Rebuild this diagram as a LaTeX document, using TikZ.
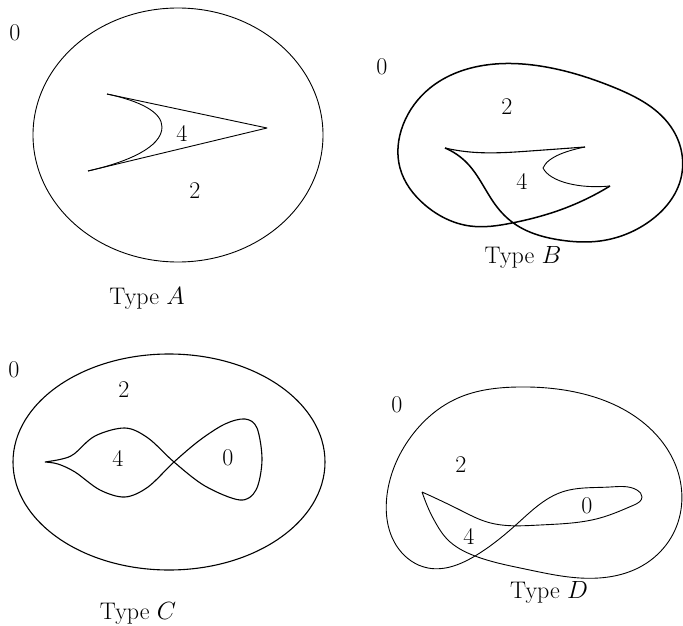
\documentclass[tikz,border=0pt]{standalone}
\usetikzlibrary{hobby}
\tikzset{
  thincurve/.style={line width=0.9pt, line join=round},
  thickcurve/.style={line width=1.5pt, line join=round},
  midcurve/.style={line width=1.1pt, line join=round},
  digit/.style={font=\fontsize{24}{26}\selectfont, inner sep=0pt},
  caption/.style={font=\fontsize{24}{28}\selectfont, inner sep=0pt}
}
\begin{document}
\begin{tikzpicture}[x=1pt,y=-1pt]
\useasboundingbox (0,0) rectangle (683,626);

% ---------- Type A ----------
\draw[thincurve] (178,135) ellipse [x radius=145, y radius=127];
\coordinate (aU) at (107,94);
\coordinate (aT) at (267,128);
\coordinate (aL) at (88,171);
\draw[thincurve] (aU) -- (aT) -- (aL);
\draw[thincurve] (aU) .. controls (140,101) and (162,112) .. (162,127)
                      .. controls (162,147) and (128,162) .. (aL);
\node[digit] (a0) at (15,33) {0};
\node[digit] (a4) at (182,133) {4};
\node[digit] (a2) at (195,191) {2};
\node[caption] (aT1) at (147,298) {Type $A$};

% ---------- Type B ----------
\draw[thickcurve, use Hobby shortcut] (445,148) .. (467,163) .. (497,207) .. (512,222)
  .. (560,240) .. (600,241) .. (650,221) .. (681,178) .. (673,130) .. (613,87)
  .. (540,66) .. (480,66) .. (430,88) .. (403,125) .. (400,168) .. (425,205)
  .. (470,226) .. (512,223) .. (560,210) .. (610,186);
\draw[thincurve] (610,186) .. controls (580,189) and (550,182) .. (543,168)
                 .. controls (548,156) and (570,150) .. (585,147);
\draw[midcurve, use Hobby shortcut] (585,147) .. (530,151) .. (470,152) .. (445,148);
\node[digit] (b0) at (382,67) {0};
\node[digit] (b2) at (507,107) {2};
\node[digit] (b4) at (522,181) {4};
\node[caption] (bT) at (523,257) {Type $B$};

% ---------- Type C ----------
\draw[midcurve] (169,462) ellipse [x radius=156, y radius=108];
\draw[midcurve] plot[smooth, tension=0.55] coordinates {
  (45,462) (62,459) (74,454) (95,436) (125,428) (148,438) (174,462)
  (205,486) (240,500) (256,490) (262,460) (257,428) (245,419) (225,424)
  (200,440) (174,462) (148,487) (125,497) (100,490) (75,472) (58,464) (45,462)};
\node[digit] (c0) at (14,370) {0};
\node[digit] (c2) at (124,390) {2};
\node[digit] (c4) at (118,458) {4};
\node[digit] (c0b) at (228,458) {0};
\node[caption] (cT) at (138,613) {Type $C$};

% ---------- Type D ----------
\draw[thincurve, use Hobby shortcut] (422,492) .. (433,518) .. (447,539) .. (475,556) .. (525,569)
  .. (580,578) .. (640,567) .. (675,530) .. (678,472) .. (640,420) .. (575,392)
  .. (518,387) .. (458,398) .. (410,438) .. (387,495) .. (398,548) .. (428,568)
  .. (475,556) .. (518,523) .. (562,492) .. (610,487) .. (637,490) .. (642,497)
  .. (634,505) .. (600,518) .. (540,525) .. (487,522) .. (462,511) .. (422,492);
\node[digit] (d0) at (397,405) {0};
\node[digit] (d2) at (461,465) {2};
\node[digit] (d0b) at (587,506) {0};
\node[digit] (d4) at (469,536) {4};
\node[caption] (dT) at (549,592) {Type $D$};
\end{tikzpicture}
\end{document}
